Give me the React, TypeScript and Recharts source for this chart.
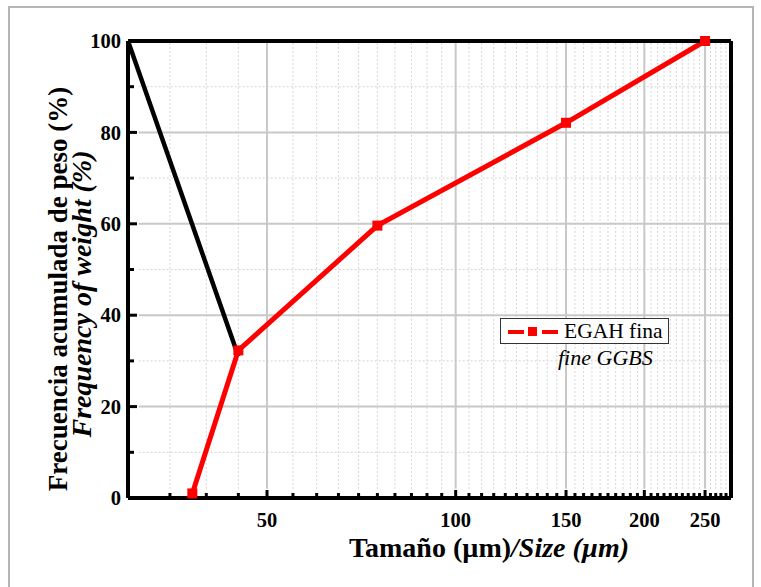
import React from 'react';
import { LineChart, Line, XAxis, YAxis, ReferenceLine, Legend } from 'recharts';

// ---- data ----
const sizes = [38, 45, 75, 150, 250];
const passing = [1, 32.3, 59.6, 82.1, 100];
const blackSizes = [30, 45];
const blackValues = [100, 31];

const xTicks = [50, 100, 150, 200, 250];
const yTicks = [0, 20, 40, 60, 80, 100];
const yMinor = [10, 30, 50, 70, 90];
const xMinor = [35, 40, 45, 55, 60, 65, 70, 75, 80, 85, 90, 95, 105, 110, 115, 120, 125, 130, 135, 140, 145, 155, 160, 165, 170, 175, 180, 185, 190, 195, 205, 210, 215, 220, 225, 230, 235, 240, 245, 255, 260, 265, 270];
const xDomain = [30, 275];
const yDomain = [0, 100];

const legendMain = 'EGAH fina';
const legendSub = 'fine GGBS';
const yTitle1 = 'Frecuencia acumulada de peso (%)';
const yTitle2 = 'Frequency of weight (%)';

const redData = sizes.map((s, i) => ({ x: s, y: passing[i] }));
const blackData = blackSizes.map((s, i) => ({ x: s, y: blackValues[i] }));
const allXTicks = [...xTicks, ...xMinor].sort((a, b) => a - b);
const allYTicks = [...yTicks, ...yMinor].sort((a, b) => a - b);

// grid segments stop just short of the tick zone so the ticks stay visible
const gridYStart = 2;
const gridXStart = 31.2;

const FONT = '"Liberation Serif", "Times New Roman", serif';

const SquareDot = (props: any) => {
  const { cx, cy } = props;
  if (cx == null || cy == null) return null;
  return <rect x={cx - 5} y={cy - 5} width={10} height={10} fill="#ff0000" />;
};

const X_MARGIN = 14;
const Y_MARGIN = 7;

const XTick = (props: any) => {
  const { x, y, payload } = props;
  const axisY = y - X_MARGIN;
  const major = xTicks.includes(payload.value);
  return (
    <g>
      <line x1={x} y1={axisY} x2={x} y2={axisY - (major ? 8 : 5)} stroke="#000" strokeWidth={3} />
      {major && (
        <text x={x} y={y} dy="0.71em" textAnchor="middle" fontFamily={FONT} fontWeight="bold" fontSize={20.5} fill="#000">
          {payload.value}
        </text>
      )}
    </g>
  );
};

const YTick = (props: any) => {
  const { x, y, payload } = props;
  const axisX = x + Y_MARGIN;
  const major = yTicks.includes(payload.value);
  return (
    <g>
      <line x1={axisX} y1={y} x2={axisX + (major ? 9 : 6)} y2={y} stroke="#000" strokeWidth={3} />
      {major && (
        <text x={x} y={y} dy="0.355em" textAnchor="end" fontFamily={FONT} fontWeight="bold" fontSize={20.5} fill="#000">
          {payload.value}
        </text>
      )}
    </g>
  );
};

const YTitle = () => (
  <g fontFamily={FONT} fontWeight="bold" fill="#000">
    <text x={0} y={0} transform="translate(67,289) rotate(-90)" textAnchor="middle" fontSize={27}>
      {yTitle1}
    </text>
    <text x={0} y={0} transform="translate(91,294) rotate(-90)" textAnchor="middle" fontSize={28} fontStyle="italic">
      {yTitle2}
    </text>
  </g>
);

const XTitle = () => (
  <text x={489} y={557} textAnchor="middle" fontFamily={FONT} fontWeight="bold" fontSize={28} fill="#000">
    <tspan>Tamaño (µm)</tspan>
    <tspan fontStyle="italic">/Size (µm)</tspan>
  </text>
);

const LegendBox = () => (
  <svg width={180} height={60} style={{ display: 'block', overflow: 'visible' }}>
    <rect x={0.5} y={0.5} width={168} height={25} fill="#fff" stroke="#333" strokeWidth={1} />
    <line x1={8} y1={14} x2={24} y2={14} stroke="#ff0000" strokeWidth={4} />
    <rect x={28} y={9} width={9} height={9} fill="#ff0000" />
    <line x1={42} y1={14} x2={58} y2={14} stroke="#ff0000" strokeWidth={4} />
    <text x={64} y={20} fontFamily={FONT} fontSize={21.5} fill="#000">{legendMain}</text>
    <text x={58} y={47} fontFamily={FONT} fontSize={22} fontStyle="italic" fill="#000">{legendSub}</text>
  </svg>
);

export default function App() {
  return (
    <div style={{ position: 'absolute', left: 0, top: 0, width: 761, height: 587, background: '#fff' }}>
      <div style={{ position: 'absolute', left: 8, top: 6, width: 742, height: 600, border: '2px solid #b4b4b4' }} />
      <div style={{ position: 'absolute', left: 0, top: 0 }}>
        <LineChart width={761} height={587} margin={{ top: 40, right: 29, bottom: 49, left: 67 }}>
          {yMinor.map((v) => (
            <ReferenceLine
              key={'ym' + v}
              segment={[{ x: gridXStart, y: v }, { x: xDomain[1], y: v }]}
              stroke="#d4d4d4"
              strokeDasharray="2 2"
              strokeWidth={1}
            />
          ))}
          {xMinor.map((v) => (
            <ReferenceLine
              key={'xm' + v}
              segment={[{ x: v, y: gridYStart }, { x: v, y: yDomain[1] }]}
              stroke="#d4d4d4"
              strokeDasharray="2 2"
              strokeWidth={1}
            />
          ))}
          {yTicks.slice(1, -1).map((v) => (
            <ReferenceLine
              key={'yg' + v}
              segment={[{ x: gridXStart, y: v }, { x: xDomain[1], y: v }]}
              stroke="#c8c8c8"
              strokeWidth={2}
            />
          ))}
          {xTicks.map((v) => (
            <ReferenceLine
              key={'xg' + v}
              segment={[{ x: v, y: gridYStart }, { x: v, y: yDomain[1] }]}
              stroke="#c8c8c8"
              strokeWidth={2}
            />
          ))}
          <XAxis
            dataKey="x"
            type="number"
            scale="log"
            domain={xDomain}
            ticks={allXTicks}
            interval={0}
            allowDataOverflow
            height={40}
            axisLine={{ stroke: '#000', strokeWidth: 4 }}
            tickLine={false}
            tickSize={0}
            tickMargin={X_MARGIN}
            tick={XTick}
            label={{ content: XTitle }}
          />
          <XAxis
            xAxisId="top"
            orientation="top"
            dataKey="x"
            type="number"
            scale="log"
            domain={xDomain}
            ticks={xTicks}
            allowDataOverflow
            height={1}
            axisLine={{ stroke: '#000', strokeWidth: 4 }}
            tickLine={false}
            tick={false}
          />
          <YAxis
            type="number"
            domain={yDomain}
            ticks={allYTicks}
            interval={0}
            width={61}
            axisLine={{ stroke: '#000', strokeWidth: 4 }}
            tickLine={false}
            tickSize={0}
            tickMargin={Y_MARGIN}
            tick={YTick}
            label={{ content: YTitle }}
          />
          <YAxis
            yAxisId="right"
            orientation="right"
            type="number"
            domain={yDomain}
            ticks={yTicks}
            width={1}
            axisLine={{ stroke: '#000', strokeWidth: 4 }}
            tickLine={false}
            tick={false}
          />
          <Legend
            layout="vertical"
            align="center"
            verticalAlign="middle"
            wrapperStyle={{ position: 'absolute', left: 500, top: 318, width: 180, height: 60 }}
            content={LegendBox}
          />
          <Line
            data={blackData}
            dataKey="y"
            type="linear"
            stroke="#000"
            strokeWidth={4.5}
            dot={false}
            isAnimationActive={false}
            legendType="none"
          />
          <Line
            data={redData}
            dataKey="y"
            name={legendMain}
            type="linear"
            stroke="#ff0000"
            strokeWidth={5}
            dot={SquareDot}
            isAnimationActive={false}
          />
        </LineChart>
      </div>
    </div>
  );
}
